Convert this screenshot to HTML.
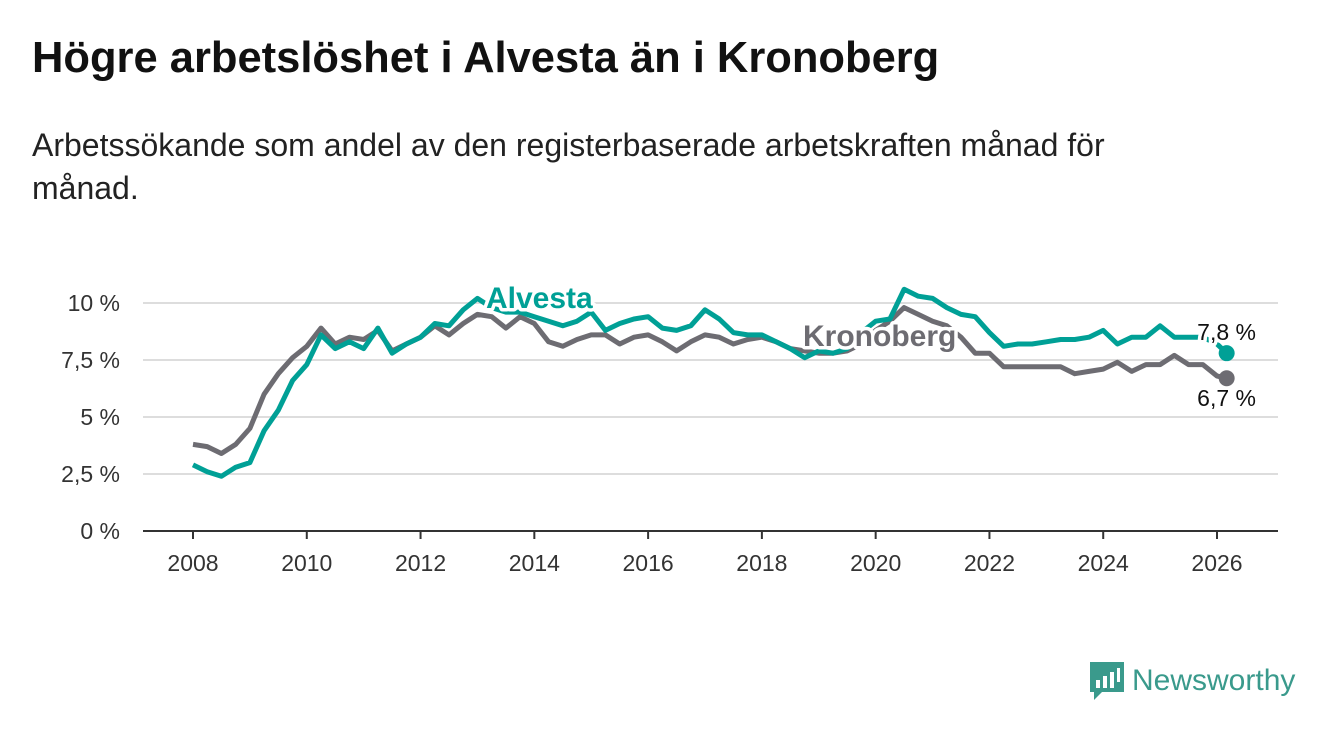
<!DOCTYPE html>
<html><head><meta charset="utf-8">
<style>
body{margin:0;background:#fff;font-family:"Liberation Sans",sans-serif;}
#wrap{position:relative;width:1340px;height:734px;overflow:hidden;}
h1{position:absolute;left:32px;top:34px;margin:0;font-size:43.5px;font-weight:bold;color:#111;white-space:nowrap;}
.sub{position:absolute;left:32px;top:124px;margin:0;font-size:32px;line-height:43px;color:#222;width:1260px;}
svg{position:absolute;left:0;top:0;}
</style></head>
<body><div id="wrap">
<h1>Högre arbetslöshet i Alvesta än i Kronoberg</h1>
<p class="sub">Arbetssökande som andel av den registerbaserade arbetskraften månad för<br>månad.</p>
<svg id="chart" width="1340" height="734"></svg>
<div style="position:absolute;left:1088px;top:660px;display:flex;align-items:center;">
<svg width="38" height="42" style="position:static"><path d="M2 2h34v30H14l-8 8v-8H2z" fill="#3a9a8c"/><rect x="8" y="20" width="4" height="8" fill="#fff"/><rect x="15" y="16" width="4" height="12" fill="#fff"/><rect x="22" y="12" width="4" height="16" fill="#fff"/><rect x="29" y="8" width="3" height="14" fill="#fff"/></svg>
<span style="font-size:30px;color:#3a9a8c;margin-left:6px;">Newsworthy</span></div>
</div>
<script>
const xTicks=[2008,2010,2012,2014,2016,2018,2020,2022,2024,2026];
const yTicks=[0,2.5,5,7.5,10];
const yTickLabels=["0 %","2,5 %","5 %","7,5 %","10 %"];
const alvestaX=[2008,2008.25,2008.5,2008.75,2009,2009.25,2009.5,2009.75,2010,2010.25,2010.5,2010.75,2011,2011.25,2011.5,2011.75,2012,2012.25,2012.5,2012.75,2013,2013.25,2013.5,2013.75,2014,2014.25,2014.5,2014.75,2015,2015.25,2015.5,2015.75,2016,2016.25,2016.5,2016.75,2017,2017.25,2017.5,2017.75,2018,2018.25,2018.5,2018.75,2019,2019.25,2019.5,2019.75,2020,2020.25,2020.5,2020.75,2021,2021.25,2021.5,2021.75,2022,2022.25,2022.5,2022.75,2023,2023.25,2023.5,2023.75,2024,2024.25,2024.5,2024.75,2025,2025.25,2025.5,2025.75,2026,2026.17];
const alvesta=[2.9,2.6,2.4,2.8,3.0,4.4,5.3,6.6,7.3,8.6,8.0,8.3,8.0,8.9,7.8,8.2,8.5,9.1,9.0,9.7,10.2,9.8,9.6,9.6,9.4,9.2,9.0,9.2,9.6,8.8,9.1,9.3,9.4,8.9,8.8,9.0,9.7,9.3,8.7,8.6,8.6,8.3,8.0,7.6,7.9,7.8,8.0,8.7,9.2,9.3,10.6,10.3,10.2,9.8,9.5,9.4,8.7,8.1,8.2,8.2,8.3,8.4,8.4,8.5,8.8,8.2,8.5,8.5,9.0,8.5,8.5,8.5,8.2,7.8];
const kronoberg=[3.8,3.7,3.4,3.8,4.5,6.0,6.9,7.6,8.1,8.9,8.2,8.5,8.4,8.8,7.9,8.2,8.5,9.0,8.6,9.1,9.5,9.4,8.9,9.4,9.1,8.3,8.1,8.4,8.6,8.6,8.2,8.5,8.6,8.3,7.9,8.3,8.6,8.5,8.2,8.4,8.5,8.3,8.0,7.9,7.8,7.8,7.9,8.2,8.8,9.2,9.8,9.5,9.2,9.0,8.5,7.8,7.8,7.2,7.2,7.2,7.2,7.2,6.9,7.0,7.1,7.4,7.0,7.3,7.3,7.7,7.3,7.3,6.8,6.7];
const svg=document.getElementById('chart');const NS='http://www.w3.org/2000/svg';
const xs=v=>193+(v-2008)*(1217-193)/18;const ys=v=>531-v*22.8;
function mk(t,a,p){const e=document.createElementNS(NS,t);for(const k in a)e.setAttribute(k,a[k]);(p||svg).appendChild(e);return e;}
yTicks.forEach((t,i)=>{if(t>0){const g=mk('line',{x1:143,x2:1278,y1:ys(t),y2:ys(t),stroke:'#ddd','stroke-width':2});}
const l=mk('text',{x:120,y:ys(t)+8,'text-anchor':'end','font-size':23,fill:'#333','font-family':'Liberation Sans, sans-serif'});l.textContent=yTickLabels[i];});
const ax=mk('line',{x1:143,x2:1278,y1:531,y2:531,stroke:'#333','stroke-width':2});
xTicks.forEach(t=>{const tk=mk('line',{x1:xs(t),x2:xs(t),y1:531,y2:539,stroke:'#333','stroke-width':2});
const l=mk('text',{x:xs(t),y:571,'text-anchor':'middle','font-size':23,fill:'#333','font-family':'Liberation Sans, sans-serif'});l.textContent=t;});
function line(vals,col,name){const d=vals.map((v,i)=>(i?'L':'M')+xs(alvestaX[i]).toFixed(1)+' '+ys(v).toFixed(1)).join(' ');
const p=mk('path',{d:d,fill:'none',stroke:col,'stroke-width':5,'stroke-linejoin':'round'});
const n=vals.length-1;const c=mk('circle',{cx:xs(alvestaX[n]),cy:ys(vals[n]),r:8,fill:col});}
line(kronoberg,'#6d6c72','kronoberg-line');line(alvesta,'#00a096','alvesta-line');
function lab(x,y,t,col,fs,bold,name,anchor){const e=mk('text',{x:x,y:y,'font-size':fs,'font-weight':bold?'bold':'normal',fill:col,stroke:'#fff','stroke-width':7,'paint-order':'stroke','stroke-linejoin':'round','text-anchor':anchor||'start','font-family':'Liberation Sans, sans-serif'});e.textContent=t;}
lab(486,308,'Alvesta','#00a096',30,true,'alvesta-label');
lab(803,346,'Kronoberg','#6d6c72',30,true,'kronoberg-label');
lab(1256,340,'7,8 %','#111',23,false,'alvesta-end-value','end');
lab(1256,406,'6,7 %','#111',23,false,'kronoberg-end-value','end');
</script></body></html>
